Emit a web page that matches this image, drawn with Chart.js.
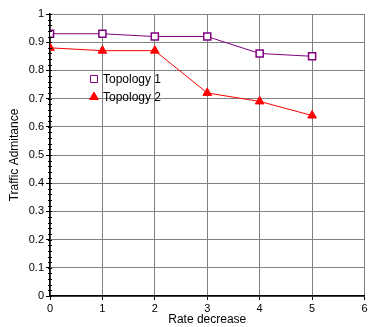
<!DOCTYPE html>
<html>
<head>
<meta charset="utf-8">
<script src="https://cdn.jsdelivr.net/npm/chart.js@4/dist/chart.umd.min.js"></script>
<style>
  html, body { margin: 0; padding: 0; background: #fff; overflow: hidden; }
  /* a bit wider than the window: Chart.js keeps ~6px right margin, the original has ~3 */
  #wrap { width: 371px; height: 327px; }
</style>
</head>
<body>
<div id="wrap"><canvas id="c"></canvas></div>
<script>
const rateDecrease = [0, 1, 2, 3, 4, 5];
const topology1 = [0.93, 0.93, 0.92, 0.92, 0.86, 0.85];
const topology2 = [0.88, 0.87, 0.87, 0.72, 0.69, 0.64];
const seriesNames = ['Topology 1', 'Topology 2'];

const font = 'Liberation Sans, Arial, sans-serif';
const pts = (ys) => rateDecrease.map((x, i) => ({ x, y: ys[i] }));

// legend drawn inside the plot, like the original
const insideLegend = {
  id: 'insideLegend',
  afterDatasetsDraw(chart) {
    const { ctx, chartArea } = chart;
    ctx.save();
    ctx.font = '12px ' + font;
    ctx.textBaseline = 'middle';
    chart.data.datasets.forEach((ds, i) => {
      const x = chartArea.left + 44, y = chartArea.top + 65 + i * 18;
      ctx.strokeStyle = ds.borderColor;
      ctx.lineWidth = 1;
      ctx.fillStyle = ds.pointBackgroundColor;
      Chart.helpers.drawPoint(ctx, { pointStyle: ds.pointStyle, radius: ds.pointRadius, borderWidth: 1 }, x, y);
      ctx.fillStyle = '#000';
      ctx.fillText(ds.label, x + 9, y + 1);
    });
    ctx.restore();
  }
};

// small minor ticks along the y axis
const minorTicks = {
  id: 'minorTicks',
  afterDraw(chart) {
    const { ctx } = chart;
    const y = chart.scales.y;
    ctx.save();
    ctx.strokeStyle = '#000';
    ctx.lineWidth = 1;
    ctx.beginPath();
    for (let v = 0; v <= 1.0001; v += 0.02) {
      const py = Math.round(y.getPixelForValue(v)) + 0.5;
      ctx.moveTo(y.right - 2, py);
      ctx.lineTo(y.right + 2, py);
    }
    ctx.stroke();
    ctx.restore();
  }
};

new Chart(document.getElementById('c'), {
  type: 'line',
  data: {
    datasets: [
      {
        label: seriesNames[0], data: pts(topology1),
        borderColor: '#800080', backgroundColor: '#800080', borderWidth: 1,
        pointStyle: 'rect', pointRadius: 5, pointBorderWidth: 1.5,
        pointBackgroundColor: '#fff', pointBorderColor: '#800080'
      },
      {
        label: seriesNames[1], data: pts(topology2),
        borderColor: '#ff0000', backgroundColor: '#ff0000', borderWidth: 1,
        pointStyle: 'triangle', pointRadius: 5, pointBorderWidth: 1,
        pointBackgroundColor: '#ff0000', pointBorderColor: '#ff0000'
      }
    ]
  },
  options: {
    responsive: true,
    maintainAspectRatio: false,
    animation: false,
    layout: { padding: { top: 14, right: 0, left: 0, bottom: 0 } },
    plugins: { legend: { display: false }, tooltip: { enabled: false } },
    scales: {
      x: {
        type: 'linear', min: 0, max: 6,
        ticks: { stepSize: 1, color: '#000', font: { family: font, size: 11 }, padding: 2, maxRotation: 0 },
        grid: { color: '#808080', tickColor: '#000', tickLength: 4 },
        border: { color: '#000', width: 1.5 },
        title: { display: true, text: 'Rate decrease', color: '#000', font: { family: font, size: 12 }, padding: { top: 0, bottom: 0 } },
        afterFit: (s) => { s.height = 31; }
      },
      y: {
        min: 0, max: 1,
        ticks: {
          stepSize: 0.1, color: '#000', font: { family: font, size: 11 }, padding: 2,
          callback: (v) => String(Math.round(v * 10) / 10)
        },
        grid: { color: '#808080', tickColor: '#000', tickLength: 4 },
        border: { color: '#000', width: 1.5 },
        title: { display: true, text: 'Traffic Admitance', color: '#000', font: { family: font, size: 12 }, padding: { top: 7, bottom: 0 } },
        afterFit: (s) => { s.width = 50; }
      }
    }
  },
  plugins: [insideLegend, minorTicks]
});
</script>
</body>
</html>
